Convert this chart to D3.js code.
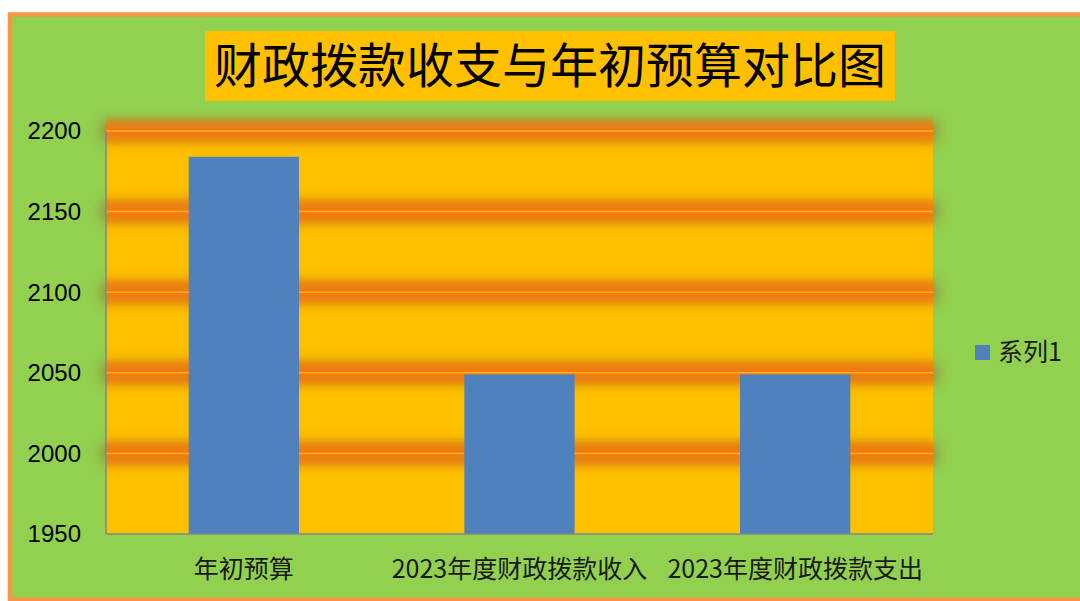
<!DOCTYPE html>
<html><head><meta charset="utf-8">
<script src="https://cdn.jsdelivr.net/npm/d3@7/dist/d3.min.js"></script>
<style>html,body{margin:0;padding:0;background:#fff;}svg{display:block;}</style>
</head><body>
<script>
const categories = ["年初预算", "2023年度财政拨款收入", "2023年度财政拨款支出"];
const values = [2184, 2049, 2049];
const yTicks = [1950, 2000, 2050, 2100, 2150, 2200];
const seriesName = "系列1";
const title = "财政拨款收支与年初预算对比图";

const W = 1080, H = 601;
const svg = d3.select("body").append("svg").attr("width", W).attr("height", H);
const defs = svg.append("defs");
const f = defs.append("filter").attr("id","glow").attr("filterUnits","userSpaceOnUse")
  .attr("x",0).attr("y",0).attr("width",W).attr("height",H);
f.append("feGaussianBlur").attr("stdDeviation", 7);
const f2 = defs.append("filter").attr("id","glow2").attr("filterUnits","userSpaceOnUse")
  .attr("x",0).attr("y",0).attr("width",W).attr("height",H);
f2.append("feGaussianBlur").attr("stdDeviation", 5);

// outer chart area
svg.append("rect").attr("x",10).attr("y",14.5).attr("width",1085).attr("height",585)
  .attr("fill","#92D050").attr("stroke","#F79646").attr("stroke-width",4.5);

const plot = {l:106, r:933, t:131, b:534};
const x = d3.scaleBand().domain(categories).range([plot.l, plot.r]).padding(0);
const y = d3.scaleLinear().domain([1950, 2200]).range([plot.b, plot.t]);

// plot background
svg.append("rect").attr("x",plot.l).attr("y",plot.t).attr("width",plot.r-plot.l).attr("height",plot.b-plot.t).attr("fill","#FFC000");

const grid = yTicks.filter(d=>d>1950);
// outer glow (brownish, extends beyond plot)
svg.append("g").selectAll("rect").data(grid).join("rect")
  .attr("x",plot.l-4).attr("width",plot.r-plot.l+8).attr("y",d=>y(d)-9).attr("height",18)
  .attr("fill","#9A5A28").attr("fill-opacity",0.65).attr("filter","url(#glow)");
// inner glow (orange, inside plot)
const clip = defs.append("clipPath").attr("id","pc");
clip.append("rect").attr("x",plot.l).attr("y",plot.t-25).attr("width",plot.r-plot.l).attr("height",plot.b-plot.t+25);
svg.append("g").attr("clip-path","url(#pc)").selectAll("rect").data(grid).join("rect")
  .attr("x",plot.l-20).attr("width",plot.r-plot.l+40).attr("y",d=>y(d)-9).attr("height",18)
  .attr("fill","#F47A0A").attr("filter","url(#glow2)");
svg.append("g").selectAll("line").data(grid).join("line")
  .attr("x1",plot.l).attr("x2",plot.r).attr("y1",d=>y(d)).attr("y2",d=>y(d))
  .attr("stroke","#FFB020").attr("stroke-width",1.5);

// bars
const bw = x.bandwidth()*0.4;
svg.append("g").selectAll("rect").data(values).join("rect")
  .attr("x",(d,i)=>x(categories[i])+x.bandwidth()/2-bw/2)
  .attr("y",d=>y(d)).attr("width",bw).attr("height",d=>y(1950)-y(d))
  .attr("fill","#4F81BD");

// axes lines
svg.append("line").attr("x1",plot.l).attr("x2",plot.l).attr("y1",plot.t).attr("y2",plot.b).attr("stroke","#868686").attr("stroke-width",1.5);
svg.append("line").attr("x1",plot.l).attr("x2",plot.r).attr("y1",plot.b).attr("y2",plot.b).attr("stroke","#868686").attr("stroke-width",1.5);

const font = "'Noto Sans CJK SC', 'Noto Sans', sans-serif";
// y tick labels
svg.append("g").selectAll("text").data(yTicks).join("text")
  .attr("x",81).attr("y",d=>y(d)).attr("dy","0.35em").attr("text-anchor","end")
  .attr("font-family","'Liberation Sans', 'Noto Sans', sans-serif").attr("font-size",24).attr("fill","#000")
  .text(d=>d);

// x labels
svg.append("g").selectAll("text").data(categories).join("text")
  .attr("x",d=>x(d)+x.bandwidth()/2).attr("y",569).attr("dy","0.35em").attr("text-anchor","middle")
  .attr("font-family",font).attr("font-size",25).attr("fill","#1a1a1a")
  .text(d=>d);

// title
svg.append("rect").attr("x",205).attr("y",31).attr("width",690).attr("height",70).attr("fill","#FFC000");
svg.append("text").attr("x",550).attr("y",66).attr("dy","0.35em").attr("text-anchor","middle")
  .attr("font-family",font).attr("font-size",48).attr("font-weight",400).attr("fill","#000").text(title);

// legend
svg.append("rect").attr("x",975).attr("y",345).attr("width",15).attr("height",15).attr("fill","#4F81BD");
svg.append("text").attr("x",998).attr("y",352.5).attr("dy","0.35em").attr("font-family",font).attr("font-size",25).attr("fill","#1a1a1a").text(seriesName);
</script>
</body></html>
